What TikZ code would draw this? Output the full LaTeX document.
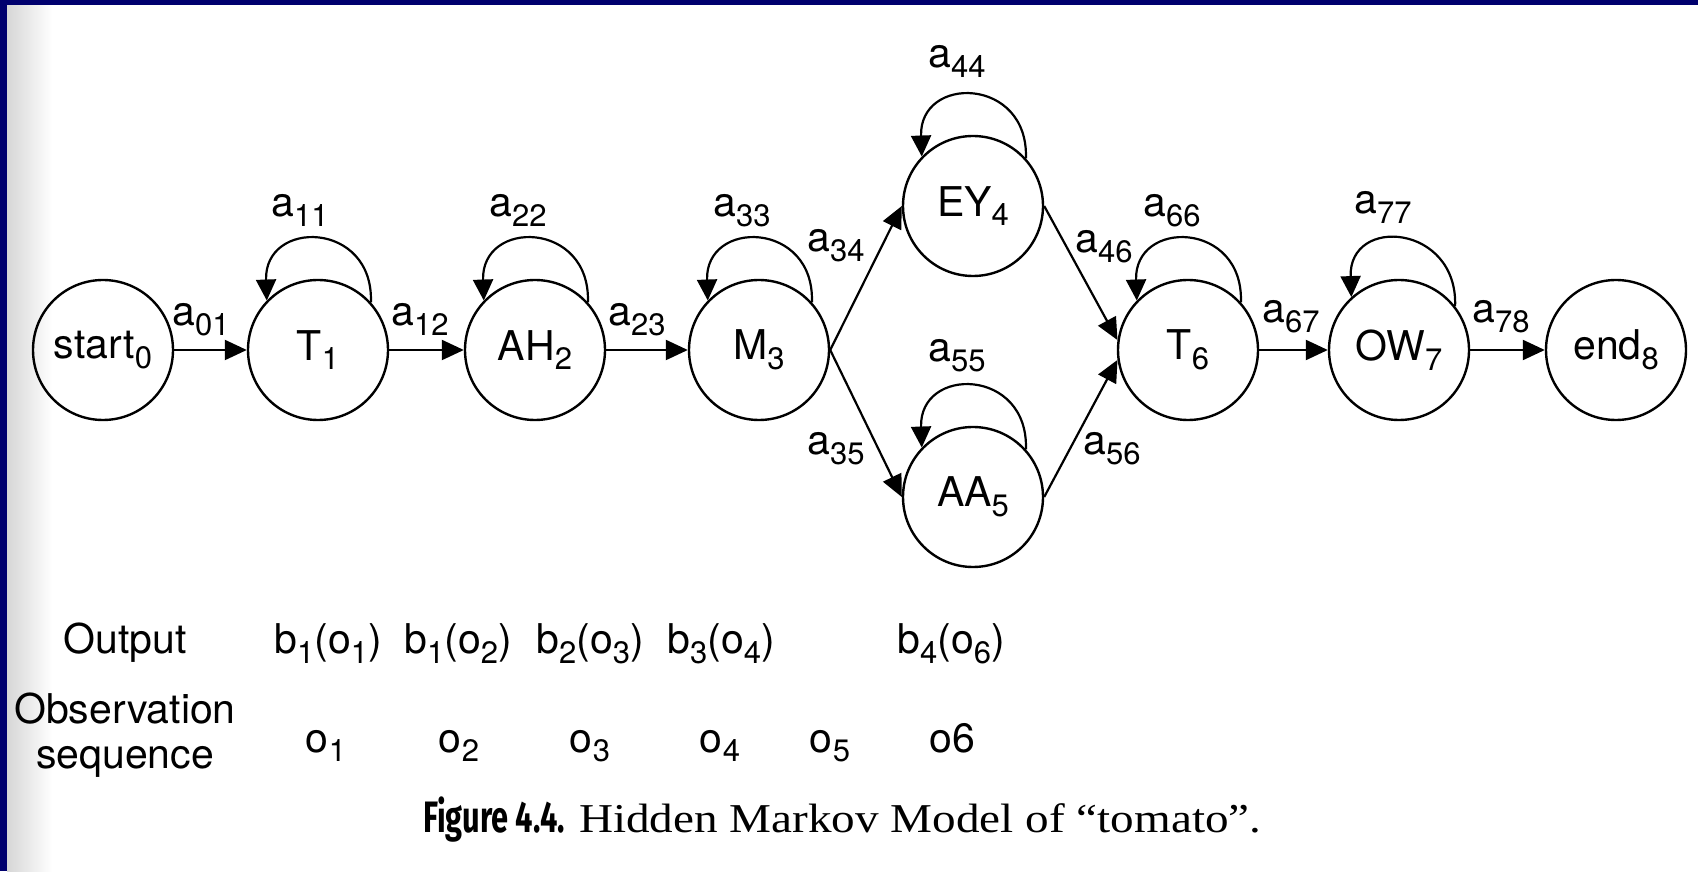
\documentclass[tikz,border=0pt]{standalone}
\usepackage{fontspec}
\setmainfont{TeX Gyre Heros}
\newfontfamily\capsans{Fira Sans}[FakeStretch=0.70]
\newfontfamily\capserif{Liberation Serif}[FakeStretch=1.15]
\usetikzlibrary{arrows.meta}
\definecolor{frameblue}{RGB}{0,0,110}
\newcommand\dn[1]{\raisebox{-9.5pt}{\fontsize{31pt}{31pt}\selectfont #1}}
\tikzset{
  st/.style={circle, draw, line width=2.4pt, minimum size=140pt, inner sep=0pt,
    font=\fontsize{41pt}{49pt}\selectfont},
  lab/.style={anchor=base, inner sep=0pt, font=\fontsize{41pt}{49pt}\selectfont},
  edge/.style={line width=2.2pt, -{Triangle[length=22pt,width=20pt]}},
  selfloop/.style={line width=2.2pt, -{Triangle[length=21pt,width=20pt]}},
}
\begin{document}
\begin{tikzpicture}[x=1pt,y=1pt]
\useasboundingbox (0,0) rectangle (1698,871);
\fill[white] (0,0) rectangle (1698,871);
\shade[left color=black!16, right color=white] (7,0) rectangle (52,866);
\fill[frameblue] (0,866) rectangle (1698,871);
\fill[frameblue] (0,0) rectangle (7,871);

% states
\node[st] (s0) at (103,521) {start\dn{0}};
\node[st] (s1) at (318,521) {T\dn{1}};
\node[st] (s2) at (535,521) {AH\dn{2}};
\node[st] (s3) at (759,521) {M\dn{3}};
\node[st] (s4) at (973,665) {EY\dn{4}};
\node[st] (s5) at (973,374) {AA\dn{5}};
\node[st] (s6) at (1188,521) {T\dn{6}};
\node[st] (s7) at (1399,521) {OW\dn{7}};
\node[st] (s8) at (1616,521) {end\dn{8}};

% transitions
\draw[edge] (s0) -- (s1);
\draw[edge] (s1) -- (s2);
\draw[edge] (s2) -- (s3);
\draw[edge] (s3.east) -- (s4.west);
\draw[edge] (s3.east) -- (s5.west);
\draw[edge] (s4.east) -- (s6.172);
\draw[edge] (s5.east) -- (s6.188);
\draw[edge] (s6) -- (s7);
\draw[edge] (s7) -- (s8);

% self loops
\foreach \n in {s1,s2,s3,s4,s5,s6}{
  \draw[selfloop] (\n.42) .. controls +(88:82pt) and +(92:82pt) .. (\n.136);
}
\draw[selfloop] (s7.38) .. controls +(88:82pt) and +(92:82pt) .. (s7.132);

% transition labels
\node[lab] (l01) at (201,545) {a\dn{01}};
\node[lab] (l12) at (420,545) {a\dn{12}};
\node[lab] (l23) at (637,545) {a\dn{23}};
\node[lab] (l34) at (836,619) {a\dn{34}};
\node[lab] (l35) at (836,416) {a\dn{35}};
\node[lab] (l46) at (1104,618) {a\dn{46}};
\node[lab] (l56) at (1112,416) {a\dn{56}};
\node[lab] (l67) at (1291,548) {a\dn{67}};
\node[lab] (l78) at (1501,548) {a\dn{78}};
\node[lab] (l11) at (300,654) {a\dn{11}};
\node[lab] (l22) at (518,654) {a\dn{22}};
\node[lab] (l33) at (742,654) {a\dn{33}};
\node[lab] (l44) at (957,803) {a\dn{44}};
\node[lab] (l55) at (957,509) {a\dn{55}};
\node[lab] (l66) at (1172,654) {a\dn{66}};
\node[lab] (l77) at (1383,657) {a\dn{77}};

% output row
\node[lab] (out) at (125,217) {Output};
\node[lab] (b1) at (328,217) {b\dn{1}(o\dn{1})};
\node[lab] (b2) at (458,217) {b\dn{1}(o\dn{2})};
\node[lab] (b3) at (590,217) {b\dn{2}(o\dn{3})};
\node[lab] (b4) at (721,217) {b\dn{3}(o\dn{4})};
\node[lab] (b6) at (951,217) {b\dn{4}(o\dn{6})};

% observation row
\node[lab] (obs1) at (125,148) {Observation};
\node[lab] (obs2) at (125,103) {sequence};
\node[lab] (o1) at (326,119) {o\dn{1}};
\node[lab] (o2) at (459,119) {o\dn{2}};
\node[lab] (o3) at (590,119) {o\dn{3}};
\node[lab] (o4) at (720,119) {o\dn{4}};
\node[lab] (o5) at (830,119) {o\dn{5}};
\node[lab] (o6) at (952,119) {o6};

% caption
\node[anchor=base east, inner sep=0pt, font=\capsans\bfseries\fontsize{44pt}{50pt}\selectfont] (figno) at (565,39) {Figure 4.4.};
\node[anchor=base west, inner sep=0pt, font=\capserif\fontsize{41pt}{50pt}\selectfont] (captxt) at (579,39) {Hidden Markov Model of “tomato”.};
\end{tikzpicture}
\end{document}
